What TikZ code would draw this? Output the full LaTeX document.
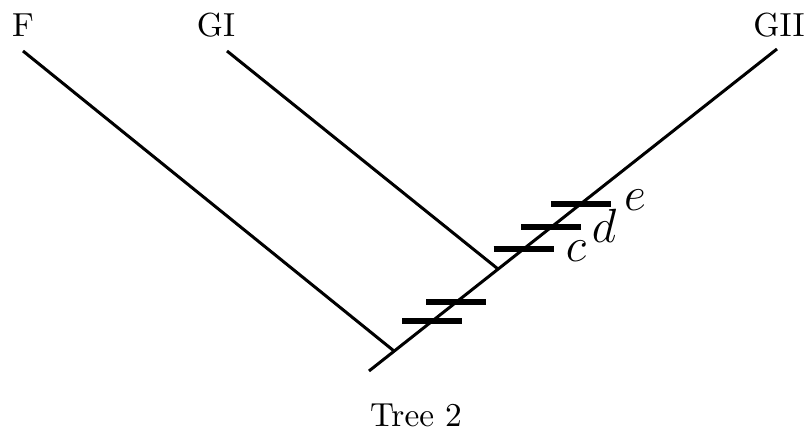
\documentclass[tikz,border=0pt]{standalone}
\usetikzlibrary{calc}
\begin{document}
\begin{tikzpicture}[x=0.3pt,y=-0.3pt,
  branch/.style={line width=0.9pt},
  tick/.style={line width=1.6pt},
  taxon/.style={anchor=base,inner sep=0pt},
  charlabel/.style={anchor=base,inner sep=0pt,font=\Large}]
\useasboundingbox (0,0) rectangle (807,436);
\coordinate (root) at (369,371);
\coordinate (top) at (777,49);
\coordinate (Fend) at (23,51);
\coordinate (Fj) at (394,351);
\coordinate (GIend) at (227,51);
\coordinate (GIj) at (498,269);
\draw[branch] (root) -- (top);
\draw[branch] (Fend) -- (Fj);
\draw[branch] (GIend) -- (GIj);
\foreach \p/\n in {0.155/t1,0.214/t2,0.379/t3,0.447/t4,0.519/t5}{
  \coordinate (\n) at ($(root)!\p!(top)$);
  \draw[tick] ($(\n)+(-30,0)$) -- ($(\n)+(30,0)$);
}
\node[taxon] (F) at (23,37) {F};
\node[taxon] (GI) at (216,37) {GI};
\node[taxon] (GII) at (779,37) {GII};
\node[charlabel] (c) at (576,262) {$c$};
\node[charlabel] (d) at (604,243) {$d$};
\node[charlabel] (e) at (635,211) {$e$};
\node[taxon] (cap) at (416,427) {Tree 2};
\end{tikzpicture}
\end{document}
